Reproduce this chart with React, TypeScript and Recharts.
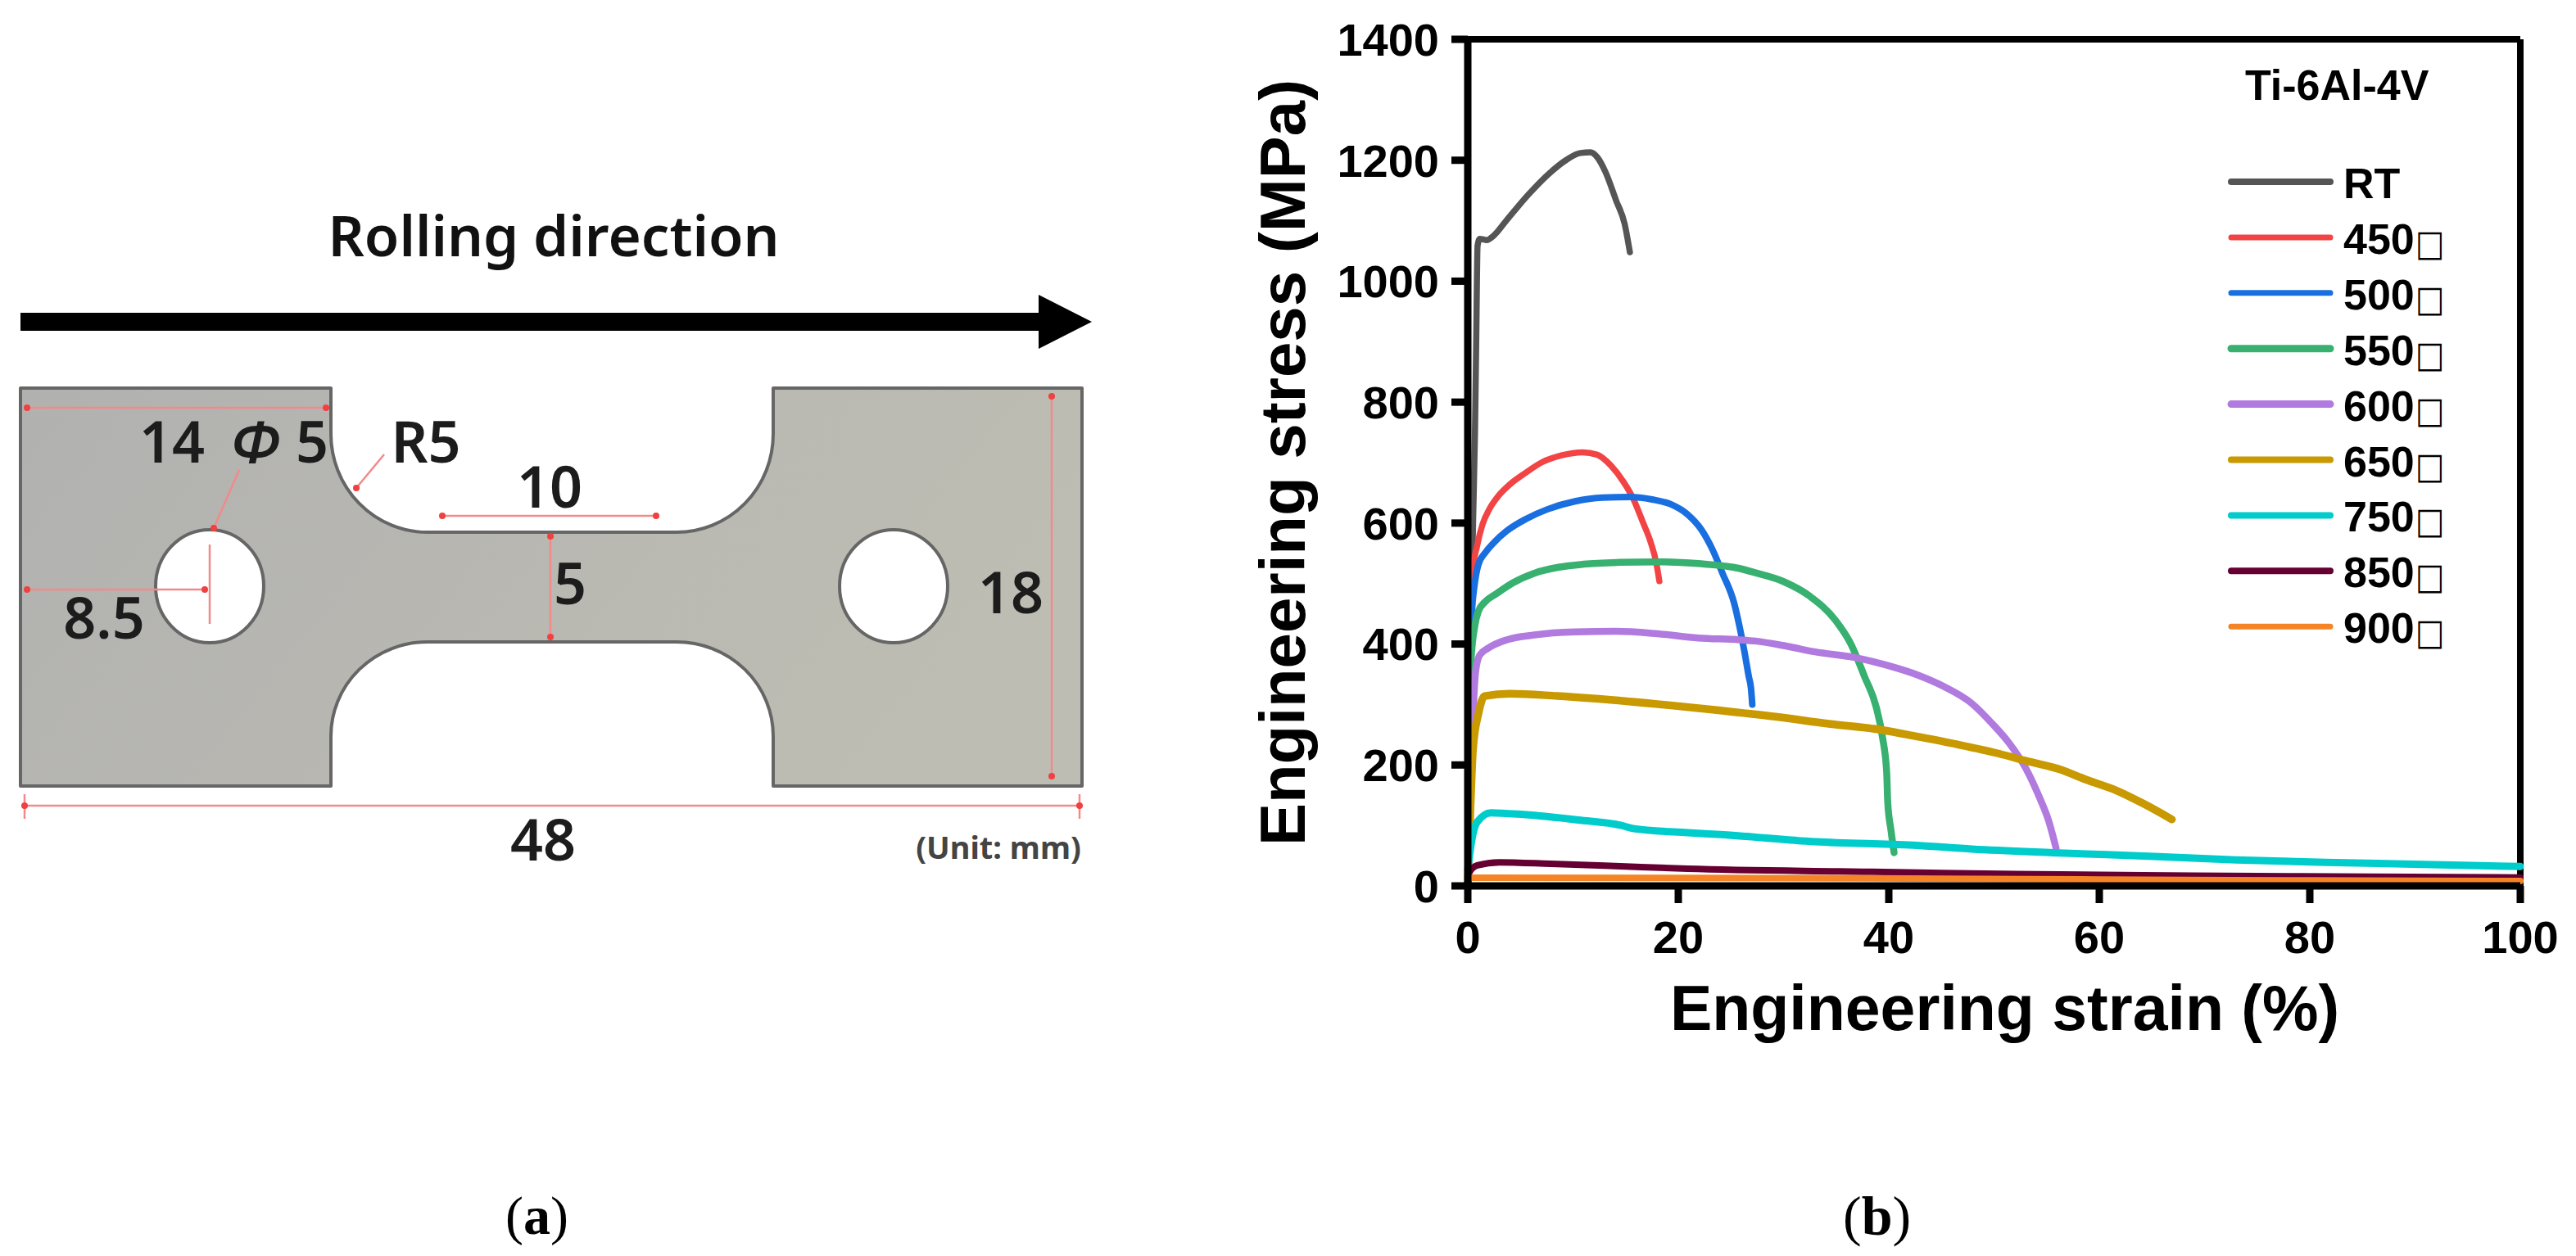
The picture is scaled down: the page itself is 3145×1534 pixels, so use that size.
import { Legend, Line, LineChart, ReferenceLine, XAxis, YAxis } from 'recharts'

const strainTicks = [0, 20, 40, 60, 80, 100]
const stressTicks = [0, 200, 400, 600, 800, 1000, 1200, 1400]

const rtStrain = [0, 0.2, 0.5, 0.68, 0.8, 0.93, 1.14, 1.8, 2.44, 3.74, 5.8, 7.6, 9.4, 10.7, 11.65, 12.3, 13.07, 14.1, 14.9, 15.4]
const rtStress = [0, 300, 600, 747, 900, 1059, 1070, 1068, 1075, 1102, 1144, 1176, 1201, 1212, 1213, 1205, 1181, 1133, 1095, 1048]

const t450Strain = [0, 0.16, 0.49, 0.88, 1.4, 2.05, 2.96, 4, 5.4, 7.1, 8.9, 10.9, 12.3, 13.6, 14.8, 15.7, 16.6, 17.4, 17.9, 18.2]
const t450Stress = [0, 380, 522, 562, 598, 623, 646, 664, 682, 701, 712, 717, 713, 695, 668, 641, 603, 567, 535, 504]

const t500Strain = [0, 0.2, 0.41, 0.62, 1, 1.66, 2.44, 3.7, 5.55, 7.6, 10.2, 12.8, 15.4, 17.5, 19.3, 20.9, 22.2, 23.2, 24.2, 25.3, 25.9, 26.3, 26.7, 26.9, 27.03]
const t500Stress = [0, 370, 459, 495, 531, 551, 567, 587, 607, 623, 636, 642, 643, 639, 631, 614, 589, 558, 517, 468, 422, 386, 346, 328, 300]

const t550Strain = [0, 0.15, 0.31, 0.68, 1, 1.66, 2.7, 4.26, 6.3, 8.64, 11, 14.4, 18, 21.9, 25.8, 27.3, 29.9, 32.5, 34.9, 36.4, 37.7, 38.8, 39.4, 39.8, 39.9, 40.2, 40.5]
const t550Stress = [0, 250, 373, 431, 454, 470, 483, 501, 517, 527, 532, 535, 536, 533, 525, 518, 504, 479, 440, 400, 346, 296, 246, 188, 138, 93, 55]

const t600Strain = [0, 0.4, 0.75, 1.14, 1.92, 3.7, 6.3, 10.2, 14.1, 18, 21.9, 25.8, 27.3, 30.4, 33, 36.7, 40, 42.7, 45.2, 47.8, 49.9, 51.4, 53, 54.3, 55.2, 55.9]
const t600Stress = [0, 240, 355, 382, 393, 407, 415, 420, 421, 417, 410, 407, 405, 396, 387, 378, 364, 349, 330, 303, 267, 237, 195, 147, 107, 62]

const t650Strain = [0, 0.2, 0.5, 1, 1.6, 4, 8.5, 15.3, 24, 29.2, 34.3, 39.3, 42.7, 46.5, 50.4, 53, 56.4, 58.7, 61.6, 64.2, 66.9]
const t650Stress = [0, 103, 227, 284, 314, 318, 314, 305, 290, 280, 268, 258, 247, 234, 219, 207, 192, 176, 158, 136, 110]

const t750Strain = [0, 0.37, 0.9, 2.2, 5.3, 10.5, 14.6, 15.7, 20.9, 24, 33, 42.7, 47.9, 55.6, 64.7, 73, 81.5, 89.9, 100]
const t750Stress = [27, 75, 106, 121, 118, 109, 100, 95, 88, 85, 73, 67, 61, 55, 49, 43, 39, 36, 32]

const t850Strain = [0, 0.1, 0.9, 3, 7.9, 13, 20.9, 35.3, 39.5, 52, 69, 85.7, 100]
const t850Stress = [0, 21, 34, 39, 36.5, 33.6, 28.4, 24, 23, 19.5, 17, 15.3, 14]

const t900Strain = [0, 30, 45, 60, 80, 100]
const t900Stress = [13.5, 13, 12, 10.5, 9, 8]

function toPoints(strain: number[], stress: number[]) {
  return strain.map((x, i) => ({ strain: x, stress: stress[i] }))
}

const series = [
  { name: 'RT', color: '#555555', width: 7.5, legendWidth: 8, data: toPoints(rtStrain, rtStress) },
  { name: '450□', color: '#F24444', width: 7.5, legendWidth: 7, data: toPoints(t450Strain, t450Stress) },
  { name: '500□', color: '#1A6FE0', width: 8, legendWidth: 7, data: toPoints(t500Strain, t500Stress) },
  { name: '550□', color: '#38B070', width: 8.5, legendWidth: 9, data: toPoints(t550Strain, t550Stress) },
  { name: '600□', color: '#B07ADF', width: 8.5, legendWidth: 9, data: toPoints(t600Strain, t600Stress) },
  { name: '650□', color: '#C89900', width: 9.5, legendWidth: 8, data: toPoints(t650Strain, t650Stress) },
  { name: '750□', color: '#00CCCC', width: 9, legendWidth: 8, data: toPoints(t750Strain, t750Stress) },
  { name: '850□', color: '#660033', width: 8, legendWidth: 8, data: toPoints(t850Strain, t850Stress) },
  { name: '900□', color: '#F58426', width: 8, legendWidth: 7, data: toPoints(t900Strain, t900Stress) },
]

const SANS = '"Liberation Sans", Arial, sans-serif'
const LABEL = '"Noto Sans", sans-serif'
const RED = '#F28A8A'

// Legend is drawn inside the plot, rows 68px apart
function StressLegend() {
  return (
    <svg width={400} height={720} style={{ display: 'block', overflow: 'visible' }}>
      <text x={21} y={46} fontFamily={SANS} fontWeight={700} fontSize={52} fill="#000">
        Ti-6Al-4V
      </text>
      {series.map((s, i) => {
        const y = 146 + i * 67.9
        const label = s.name.replace('□', '')
        return (
          <g key={s.name}>
            <line x1={4} x2={125} y1={y} y2={y} stroke={s.color} strokeWidth={s.legendWidth} strokeLinecap="round" />
            <text x={141} y={y + 20} fontFamily={SANS} fontWeight={700} fontSize={52} fill="#000">
              {label}
            </text>
            {label !== 'RT' && (
              <text transform={`translate(229 ${y + 22}) scale(0.85 1)`} fontFamily='"DejaVu Sans"' fontSize={44} fill="#000">
                □
              </text>
            )}
          </g>
        )
      })}
    </svg>
  )
}

// Panel (a): specimen drawing
function SpecimenDrawing() {
  const plate =
    'M25 474 L404 474 L404 530 A118 120 0 0 0 522 650 L826 650 A118 120 0 0 0 944 530 L944 474 ' +
    'L1321 474 L1321 960 L944 960 L944 899 A118 115 0 0 0 826 784 L522 784 A118 115 0 0 0 404 899 L404 960 L25 960 Z'
  const labelProps = { fontFamily: LABEL, fontWeight: 600, fontSize: 70, fill: '#1c1c1c', textAnchor: 'middle' as const }
  return (
    <svg width={1400} height={1100} style={{ position: 'absolute', left: 0, top: 0 }}>
      <defs>
        <linearGradient id="plateFill" x1="0" y1="0" x2="1" y2="0.3">
          <stop offset="0" stopColor="#B1B1B0" />
          <stop offset="1" stopColor="#BEBDB3" />
        </linearGradient>
      </defs>
      <text x={676} y={313} {...labelProps} fontSize={69} fill="#111">
        Rolling direction
      </text>
      <path d="M25 382 L1268 382 L1268 360 L1333 393 L1268 426 L1268 404 L25 404 Z" fill="#000" />
      <path d={plate} fill="url(#plateFill)" stroke="#666" strokeWidth={4} strokeLinejoin="round" />
      <ellipse cx={256} cy={716} rx={66} ry={69} fill="#fff" stroke="#666" strokeWidth={4} />
      <ellipse cx={1091} cy={716} rx={66} ry={69} fill="#fff" stroke="#666" strokeWidth={4} />
      <g stroke={RED} strokeWidth={2.5} fill="none">
        <path d="M33 498 L398 498" />
        <path d="M1284 482 L1284 950" />
        <path d="M540 630 L801 630" />
        <path d="M672 655 L672 778" />
        <path d="M33 720 L250 720" />
        <path d="M256 665 L256 762" />
        <path d="M292 574 L261 645" />
        <path d="M469 555 L435 596" />
        <path d="M30 984 L1318 984" />
        <path d="M30 970 L30 1000 M1318 970 L1318 1000" />
      </g>
      <g fill="#F04040">
        {[
          [33, 498], [398, 498], [1284, 484], [1284, 948], [540, 630], [801, 630], [672, 655], [672, 778],
          [33, 720], [250, 720], [261, 645], [435, 596], [30, 984], [1318, 984],
        ].map(([cx, cy]) => (
          <circle key={`${cx}-${cy}`} cx={cx} cy={cy} r={4} />
        ))}
      </g>
      <text x={210} y={565} {...labelProps}>14</text>
      <text x={312} y={565} {...labelProps} fontStyle="italic">Φ</text>
      <text x={381} y={565} {...labelProps}>5</text>
      <text x={520} y={565} {...labelProps}>R5</text>
      <text x={671} y={620} {...labelProps}>10</text>
      <text x={696} y={738} {...labelProps}>5</text>
      <text x={127} y={780} {...labelProps}>8.5</text>
      <text x={1234} y={749} {...labelProps}>18</text>
      <text x={663} y={1051} {...labelProps}>48</text>
      <text x={1219} y={1049} {...labelProps} fontWeight={700} fontSize={38} fill="#444">(Unit: mm)</text>
    </svg>
  )
}

export default function App() {
  const axisLine = { stroke: '#000', strokeWidth: 9 }
  const tickLine = { stroke: '#000', strokeWidth: 9 }
  const tick = { fill: '#000', fontFamily: SANS, fontWeight: 700, fontSize: 56 }

  return (
    <div style={{ position: 'absolute', left: 0, top: 0, width: 3145, height: 1534, background: '#fff' }}>
      <SpecimenDrawing />
      <div style={{ position: 'absolute', left: 1500, top: 0 }}>
        <LineChart width={1645} height={1300} margin={{ top: 48, right: 68, bottom: 0, left: 0 }}>
          <XAxis
            type="number"
            dataKey="strain"
            domain={[0, 100]}
            ticks={strainTicks}
            height={218}
            axisLine={axisLine}
            tickLine={tickLine}
            tickSize={21}
            tickMargin={21}
            tick={tick}
            interval={0}
            label={{
              value: 'Engineering strain (%)',
              position: 'insideBottom',
              offset: 42,
              dx: 13,
              style: { fill: '#000', fontFamily: SANS, fontWeight: 700, fontSize: 77 },
            }}
          />
          <YAxis
            type="number"
            domain={[0, 1400]}
            ticks={stressTicks}
            width={292}
            axisLine={axisLine}
            tickLine={tickLine}
            tickSize={20}
            tickMargin={15}
            tick={tick}
            interval={0}
            label={{
              value: 'Engineering stress (MPa)',
              angle: -90,
              position: 'insideLeft',
              offset: 76,
              dx: -11,
              style: { fill: '#000', fontFamily: SANS, fontWeight: 700, fontSize: 78, textAnchor: 'middle' },
            }}
          />
          {/* closes the frame on the top and right */}
          <ReferenceLine y={1400} stroke="#000" strokeWidth={8} />
          <ReferenceLine x={100} stroke="#000" strokeWidth={8} />
          {series.map((s) => (
            <Line
              key={s.name}
              name={s.name}
              data={s.data}
              dataKey="stress"
              type="monotone"
              stroke={s.color}
              strokeWidth={s.width}
              strokeLinecap="round"
              strokeLinejoin="round"
              dot={false}
              activeDot={false}
              legendType="line"
              isAnimationActive={false}
            />
          ))}
          <Legend
            content={<StressLegend />}
            wrapperStyle={{ position: 'absolute', left: 1220, top: 76, width: 400, height: 0, bottom: 'auto', overflow: 'visible' }}
          />
        </LineChart>
      </div>
      <div style={{ position: 'absolute', left: 0, top: 1440, width: 3145, height: 90, fontFamily: '"Liberation Serif", serif' }}>
        <div style={{ position: 'absolute', left: 617, top: 0, fontSize: 66, lineHeight: '90px' }}>
          (<b>a</b>)
        </div>
        <div style={{ position: 'absolute', left: 2250, top: 0, fontSize: 68, lineHeight: '90px' }}>
          (<b>b</b>)
        </div>
      </div>
    </div>
  )
}
